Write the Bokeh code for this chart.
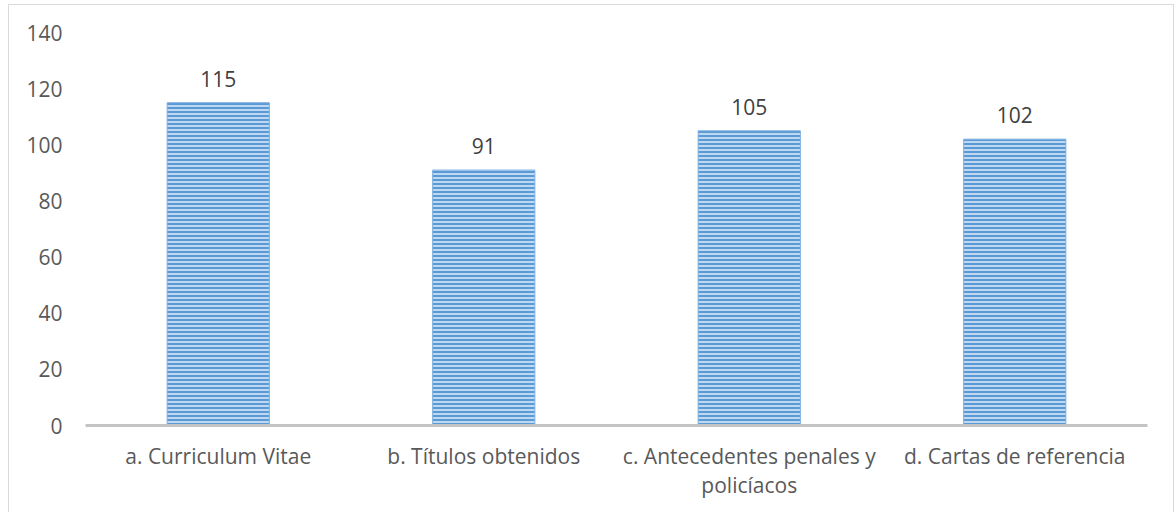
from bokeh.plotting import figure
from bokeh.models import ColumnDataSource, FactorRange, Range1d, FixedTicker
from bokeh.core.properties import value
from bokeh.embed import file_html
from bokeh.resources import INLINE

# Documents requested in the selection process (counts)
categories = [
    "a. Curriculum Vitae",
    "b. Títulos obtenidos",
    "c. Antecedentes penales y\npolicíacos",
    "d. Cartas de referencia",
]
counts = [115, 91, 105, 102]
y_ticks = [0, 20, 40, 60, 80, 100, 120, 140]

src = ColumnDataSource(data=dict(cat=categories, n=counts, lbl=[str(c) for c in counts]))

FONT = "Open Sans"
TEXT = "#595959"
SIZE = "21px"

p = figure(
    x_range=FactorRange(*categories, range_padding=0),
    y_range=Range1d(0, 140),
    width=1166, height=510,
    output_backend="svg", toolbar_location=None,
    min_border_left=76, min_border_right=28, min_border_top=27, min_border_bottom=90,
)
p.styles = {"border": "1px solid #d9d9d9", "margin-left": "8px", "margin-top": "4px"}

p.vbar(
    x="cat", top="n", width=0.385, source=src,
    fill_color="#bfd8f1", line_color="#7eb0e0", line_width=1,
    hatch_pattern="horizontal_line", hatch_color="#5b9bd5",
    hatch_weight=2, hatch_scale=4,
)
p.text(
    x="cat", y="n", text="lbl", source=src,
    text_align="center", text_baseline="bottom", y_offset=-16,
    text_font=value(FONT), text_font_size=SIZE, text_color="#404040",
)

p.outline_line_color = None
p.xgrid.grid_line_color = None
p.ygrid.grid_line_color = None

p.yaxis.ticker = FixedTicker(ticks=y_ticks)
p.yaxis.axis_line_color = None
p.yaxis.major_tick_line_color = None
p.yaxis.minor_tick_line_color = None
p.yaxis.major_tick_out = 0
p.yaxis.major_label_standoff = 23
p.yaxis.major_label_text_font = FONT
p.yaxis.major_label_text_font_size = SIZE
p.yaxis.major_label_text_color = TEXT

p.xaxis.axis_line_color = "#c4c4c4"
p.xaxis.axis_line_width = 3
p.xaxis.major_tick_line_color = None
p.xaxis.major_tick_out = 0
p.xaxis.major_label_standoff = 16
p.xaxis.major_label_text_font = FONT
p.xaxis.major_label_text_font_size = SIZE
p.xaxis.major_label_text_color = TEXT
p.xaxis.major_label_text_line_height = 1.05

open("out.html", "w").write(file_html(p, INLINE))
